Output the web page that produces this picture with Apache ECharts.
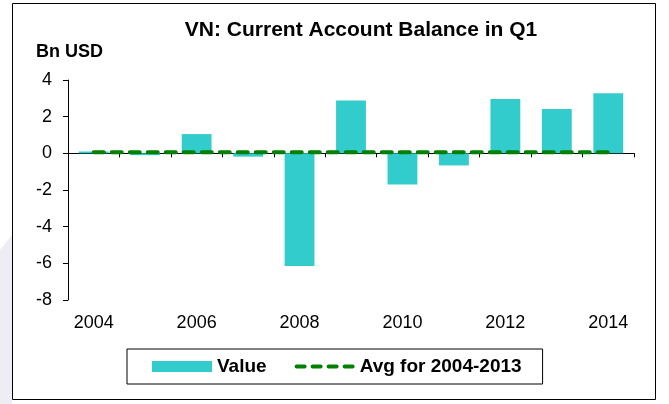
<!DOCTYPE html>
<html>
<head>
<meta charset="utf-8">
<script src="https://cdn.jsdelivr.net/npm/echarts@6/dist/echarts.min.js"></script>
<style>
    html, body { margin: 0; padding: 0; background: #fff; }
    #chart { width: 669px; height: 404px; }
</style>
</head>
<body>
<div id="chart"></div>
<script>
    var years = ['2004', '2005', '2006', '2007', '2008', '2009', '2010', '2011', '2012', '2013', '2014'];
    var values = [0.1, -0.1, 1.05, -0.18, -6.15, 2.88, -1.7, -0.66, 2.96, 2.42, 3.28];
    // average of 2004-2013, drawn flat across all years
    var avgValues = [0.06, 0.06, 0.06, 0.06, 0.06, 0.06, 0.06, 0.06, 0.06, 0.06, 0.06];
    var yTicks = { min: -8, max: 4, step: 2 };

    var font = 'Liberation Sans, Arial, sans-serif';

    // legend icon: four rounded dashes (bbox padded to 60x11 by the two empty moves)
    function dashPath() {
        var p = 'M0 0 L0 0 M60 11 L60 11 ';
        for (var i = 0; i < 4; i++) {
            var x = i * 16;
            p += 'M' + (x + 2) + ' 3.5 L' + (x + 10) + ' 3.5 A2 2 0 0 1 ' + (x + 10) + ' 7.5 L' +
                (x + 2) + ' 7.5 A2 2 0 0 1 ' + (x + 2) + ' 3.5 Z ';
        }
        return 'path://' + p;
    }

    var myChart = echarts.init(document.getElementById('chart'));

    var option = {
        animation: false,
        backgroundColor: '#fff',
        title: {
            text: 'VN: Current Account Balance in Q1',
            left: 356,
            textAlign: 'center',
            top: 15,
            textStyle: { fontFamily: font, fontSize: 21, fontWeight: 'bold', color: '#000' }
        },
        graphic: [
            {
                type: 'polygon',
                shape: { points: [[0, 250], [12, 235], [12, 404], [0, 404]] },
                style: { fill: '#eeedf6' },
                silent: true
            },
            {
                type: 'rect',
                shape: { x: 12.5, y: 3.5, width: 643, height: 396 },
                style: { fill: 'none', stroke: '#000', lineWidth: 1 },
                silent: true
            },
            {
                type: 'text',
                left: 36,
                top: 43,
                style: { text: 'Bn USD', fontFamily: font, fontSize: 18, fontWeight: 'bold', fill: '#000' }
            }
        ],
        legend: {
            data: [
                { name: 'Value', icon: 'rect' },
                { name: 'Avg for 2004-2013', icon: dashPath() }
            ],
            left: 127,
            top: 349,
            padding: [8, 21, 8, 25],
            itemGap: 28,
            itemWidth: 60,
            itemHeight: 11,
            borderColor: '#000',
            borderWidth: 1,
            textStyle: { fontFamily: font, fontSize: 19, fontWeight: 'bold', color: '#000' }
        },
        grid: {
            left: 68,
            right: 35,
            top: 80,
            bottom: 104
        },
        xAxis: [
            {
                type: 'category',
                data: years,
                axisLine: { onZero: true, lineStyle: { color: '#000', width: 1 } },
                axisTick: { show: true, interval: 0, length: 4, lineStyle: { color: '#000' } },
                axisLabel: { show: false },
                splitLine: { show: false }
            },
            {
                type: 'category',
                data: years,
                position: 'bottom',
                axisLine: { show: false, onZero: false },
                axisTick: { show: false },
                axisLabel: { interval: 1, margin: 14, fontFamily: font, fontSize: 18, color: '#000' },
                splitLine: { show: false }
            }
        ],
        yAxis: {
            type: 'value',
            min: yTicks.min,
            max: yTicks.max,
            interval: yTicks.step,
            axisLine: { show: true, lineStyle: { color: '#000', width: 1 } },
            axisTick: { show: true, length: 5, lineStyle: { color: '#000' } },
            axisLabel: { margin: 16, fontFamily: font, fontSize: 18, color: '#000' },
            splitLine: { show: false }
        },
        series: [
            {
                name: 'Value',
                type: 'bar',
                xAxisIndex: 0,
                data: values,
                barCategoryGap: '42%',
                itemStyle: { color: '#33cccc' }
            },
            {
                name: 'Avg for 2004-2013',
                type: 'line',
                xAxisIndex: 0,
                data: avgValues,
                symbol: 'none',
                z: 5,
                itemStyle: { color: '#008000' },
                lineStyle: { color: '#008000', width: 4, type: [10, 8], cap: 'round' }
            }
        ]
    };

    myChart.setOption(option);
</script>
</body>
</html>
